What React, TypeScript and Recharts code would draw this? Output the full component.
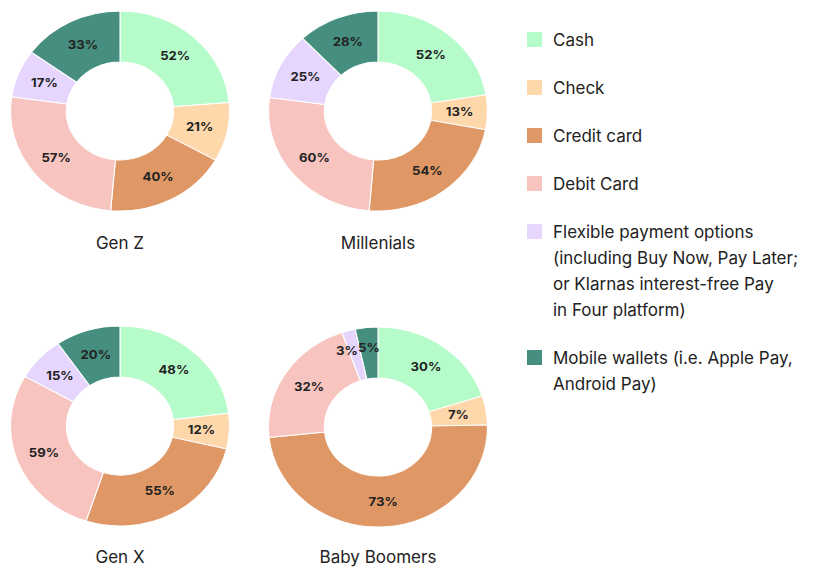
import { Pie, PieChart, Cell } from "recharts";

const methods = ["Cash", "Check", "Credit card", "Debit Card", "Flexible payment options", "Mobile wallets"];
const legendLines = [
  ["Cash"],
  ["Check"],
  ["Credit card"],
  ["Debit Card"],
  ["Flexible payment options", "(including Buy Now, Pay Later;", "or Klarnas interest-free Pay", "in Four platform)"],
  ["Mobile wallets (i.e. Apple Pay,", "Android Pay)"],
];
const colors = ["#b6fbca", "#fed7aa", "#de9765", "#f8c4bf", "#e6d5fc", "#468f80"];

const genZ = [52, 21, 40, 57, 17, 33];
const millenials = [52, 13, 54, 60, 25, 28];
const genX = [48, 12, 55, 59, 15, 20];
const boomers = [30, 7, 73, 32, 3, 5];

const groups = [
  { title: "Gen Z", values: genZ, cx: 120, cy: 111, titleY: 243 },
  { title: "Millenials", values: millenials, cx: 378, cy: 111, titleY: 243 },
  { title: "Gen X", values: genX, cx: 120, cy: 426, titleY: 557 },
  { title: "Baby Boomers", values: boomers, cx: 378, cy: 427, titleY: 557 },
];

const RADIAN = Math.PI / 180;
const FONT = "Inter, 'Noto Sans', sans-serif";

function renderLabel(props: any) {
  const { cx, cy, midAngle, innerRadius, outerRadius, value, percent } = props;
  const tiny = percent < 0.04;
  const r = (innerRadius + outerRadius) / 2 + (tiny ? 5 : 0);
  let x = cx + r * Math.cos(-midAngle * RADIAN);
  const y = cy + r * Math.sin(-midAngle * RADIAN);
  // very thin slices: push text off to the side so neighbours don't collide
  const anchor = percent < 0.025 ? "end" : "middle";
  if (anchor === "end") x += 3;
  return (
    <text x={x} y={y} textAnchor={anchor} dominantBaseline="central" fill="#222" fontSize={12} fontWeight={700} fontFamily={FONT}>
      {value}%
    </text>
  );
}

function Donut({ values }: { values: number[] }) {
  const data = methods.map((name, i) => ({ name, value: values[i] }));
  return (
    <PieChart width={220} height={220} margin={{ top: 0, right: 0, bottom: 0, left: 0 }}>
      <Pie
        data={data}
        dataKey="value"
        cx={110}
        cy={110}
        outerRadius={100}
        innerRadius={49}
        startAngle={90}
        endAngle={-270}
        stroke="#fff"
        strokeWidth={1}
        label={renderLabel}
        labelLine={false}
        isAnimationActive={false}
      >
        {data.map((d, i) => (
          <Cell key={d.name} fill={colors[i]} />
        ))}
      </Pie>
    </PieChart>
  );
}

export default function App() {
  return (
    <div style={{ position: "absolute", left: 0, top: 0, width: 823, height: 567, background: "#fff", fontFamily: FONT, color: "#222" }}>
      {groups.map((g) => (
        <div key={g.title}>
          <div
            style={{
              position: "absolute",
              left: g.cx - 110,
              top: g.cy - 110,
              width: 220,
              height: 220,
              transform: "scaleX(1.095)",
              transformOrigin: "center",
            }}
          >
            <Donut values={g.values} />
          </div>
          <div
            style={{
              position: "absolute",
              left: g.cx - 100,
              width: 200,
              top: g.titleY - 13,
              lineHeight: "26px",
              textAlign: "center",
              fontSize: 17,
            }}
          >
            {g.title}
          </div>
        </div>
      ))}
      <div style={{ position: "absolute", left: 527, top: 27, display: "flex", flexDirection: "column", gap: 22 }}>
        {legendLines.map((lines, i) => (
          <div key={i} style={{ display: "flex", alignItems: "flex-start" }}>
            <div style={{ width: 15, height: 15, background: colors[i], marginTop: 5, marginRight: 11 }} />
            <div style={{ fontSize: 17, lineHeight: "26px" }}>
              {lines.map((l) => (
                <div key={l}>{l}</div>
              ))}
            </div>
          </div>
        ))}
      </div>
    </div>
  );
}
